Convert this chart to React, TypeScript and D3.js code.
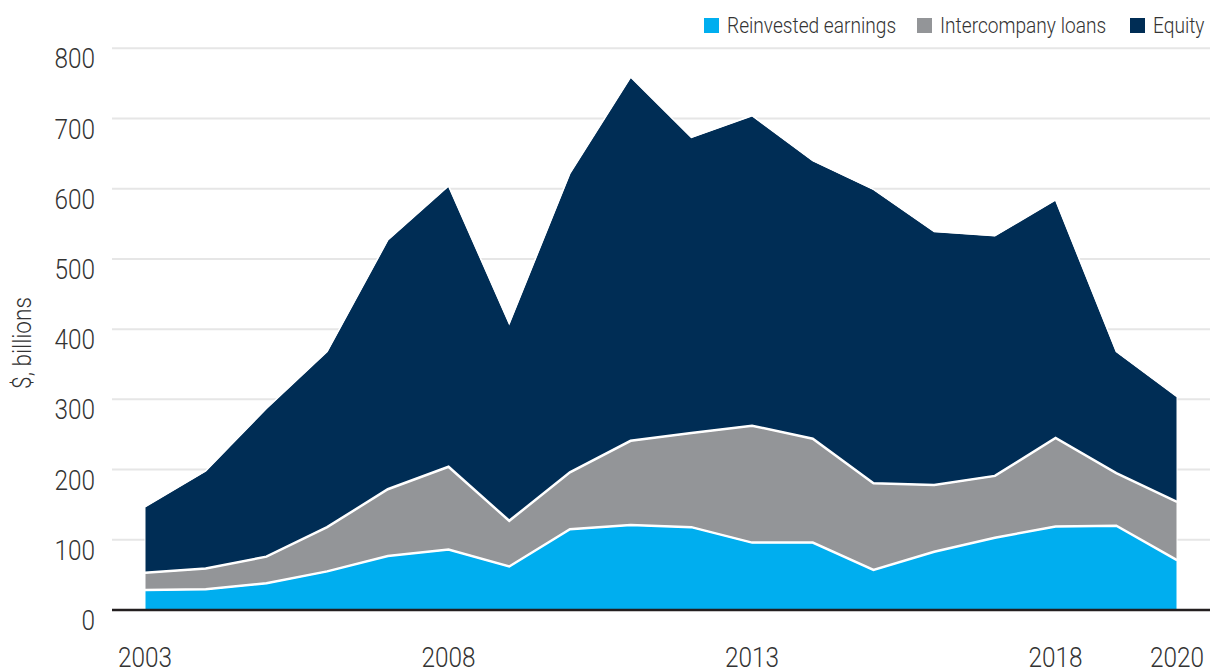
import React from "react";
import * as d3 from "d3";

const years = [2003, 2004, 2005, 2006, 2007, 2008, 2009, 2010, 2011, 2012, 2013, 2014, 2015, 2016, 2017, 2018, 2019, 2020];
const reinvestedEarnings = [28.5, 29.5, 38, 55, 77, 86, 62, 115, 121, 118, 96, 96, 57, 83, 103, 119, 120, 71];
const intercompanyLoans = [24.5, 29.5, 38, 63, 95, 118, 65, 81, 120, 134, 166.5, 148, 123.5, 95, 88, 126, 75, 83];
const equity = [94, 139, 211, 250, 355, 400, 281, 426, 518, 421, 441.5, 396, 418.5, 361, 342, 339, 173, 150];
const yTicks = [0, 100, 200, 300, 400, 500, 600, 700, 800];
const xTickYears = [2003, 2008, 2013, 2018, 2020];
const seriesNames = ["Reinvested earnings", "Intercompany loans", "Equity"];
const seriesKeys = ["re", "loans", "equity"];
const colors = ["#00aeef", "#939598", "#002d55"];

const FONT = "Roboto, sans-serif";
const SX = 0.87;
const TXT = "#333";

function CText({ x, y, size, anchor = "start", rotate = 0, children }: any) {
  return (
    <text
      transform={`translate(${x},${y}) rotate(${rotate}) scale(${SX},1)`}
      textAnchor={anchor}
      fontFamily={FONT}
      fontWeight={300}
      fontSize={size}
      fill={TXT}
    >
      {children}
    </text>
  );
}

export default function App() {
  const W = 1217, H = 671;
  const x = d3.scaleLinear().domain([2003, 2020]).range([145, 1177]);
  const y = d3.scaleLinear().domain([0, 800]).range([610, 48.3]);

  const table = years.map((yr, i) => ({
    year: yr,
    re: reinvestedEarnings[i],
    loans: intercompanyLoans[i],
    equity: equity[i],
  }));
  const stack = d3.stack<any>().keys(seriesKeys);
  const layers = stack(table);
  const area = d3
    .area<any>()
    .x((d) => x(d.data.year))
    .y0((d) => y(d[0]))
    .y1((d) => y(d[1]));
  const topLine = d3
    .line<any>()
    .x((d) => x(d.data.year))
    .y((d) => y(d[1]));

  const legendX = [704, 917, 1130];

  return (
    <div style={{ position: "absolute", left: 0, top: 0 }}>
      <svg width={W} height={H} style={{ display: "block", background: "#fff" }}>
        {yTicks.map((t) => (
          <g key={t}>
            <line x1={112} x2={1210} y1={y(t)} y2={y(t)} stroke="#e6e6e6" strokeWidth={2} />
            <CText x={95} y={y(t) + 20} size={28} anchor="end">
              {t}
            </CText>
          </g>
        ))}
        {layers.map((layer, i) => (
          <path key={i} d={area(layer) || ""} fill={colors[i]} stroke="#fff" strokeWidth={1} />
        ))}
        {layers.map((layer, i) => (
          <path
            key={"l" + i}
            d={topLine(layer) || ""}
            fill="none"
            stroke="#fff"
            strokeWidth={i < 2 ? 2.5 : 1.5}
          />
        ))}
        <line x1={112} x2={1210} y1={610} y2={610} stroke="#231f20" strokeWidth={2.5} />
        {xTickYears.map((yr) => (
          <CText key={yr} x={x(yr)} y={667} size={28} anchor="middle">
            {yr}
          </CText>
        ))}
        <CText x={31} y={343} size={26} anchor="middle" rotate={-90}>
          $, billions
        </CText>
        {seriesNames.map((name, i) => (
          <g key={name}>
            <rect x={legendX[i]} y={18} width={15} height={15} fill={colors[i]} />
            <CText x={legendX[i] + 23} y={33} size={22}>
              {name}
            </CText>
          </g>
        ))}
      </svg>
    </div>
  );
}
